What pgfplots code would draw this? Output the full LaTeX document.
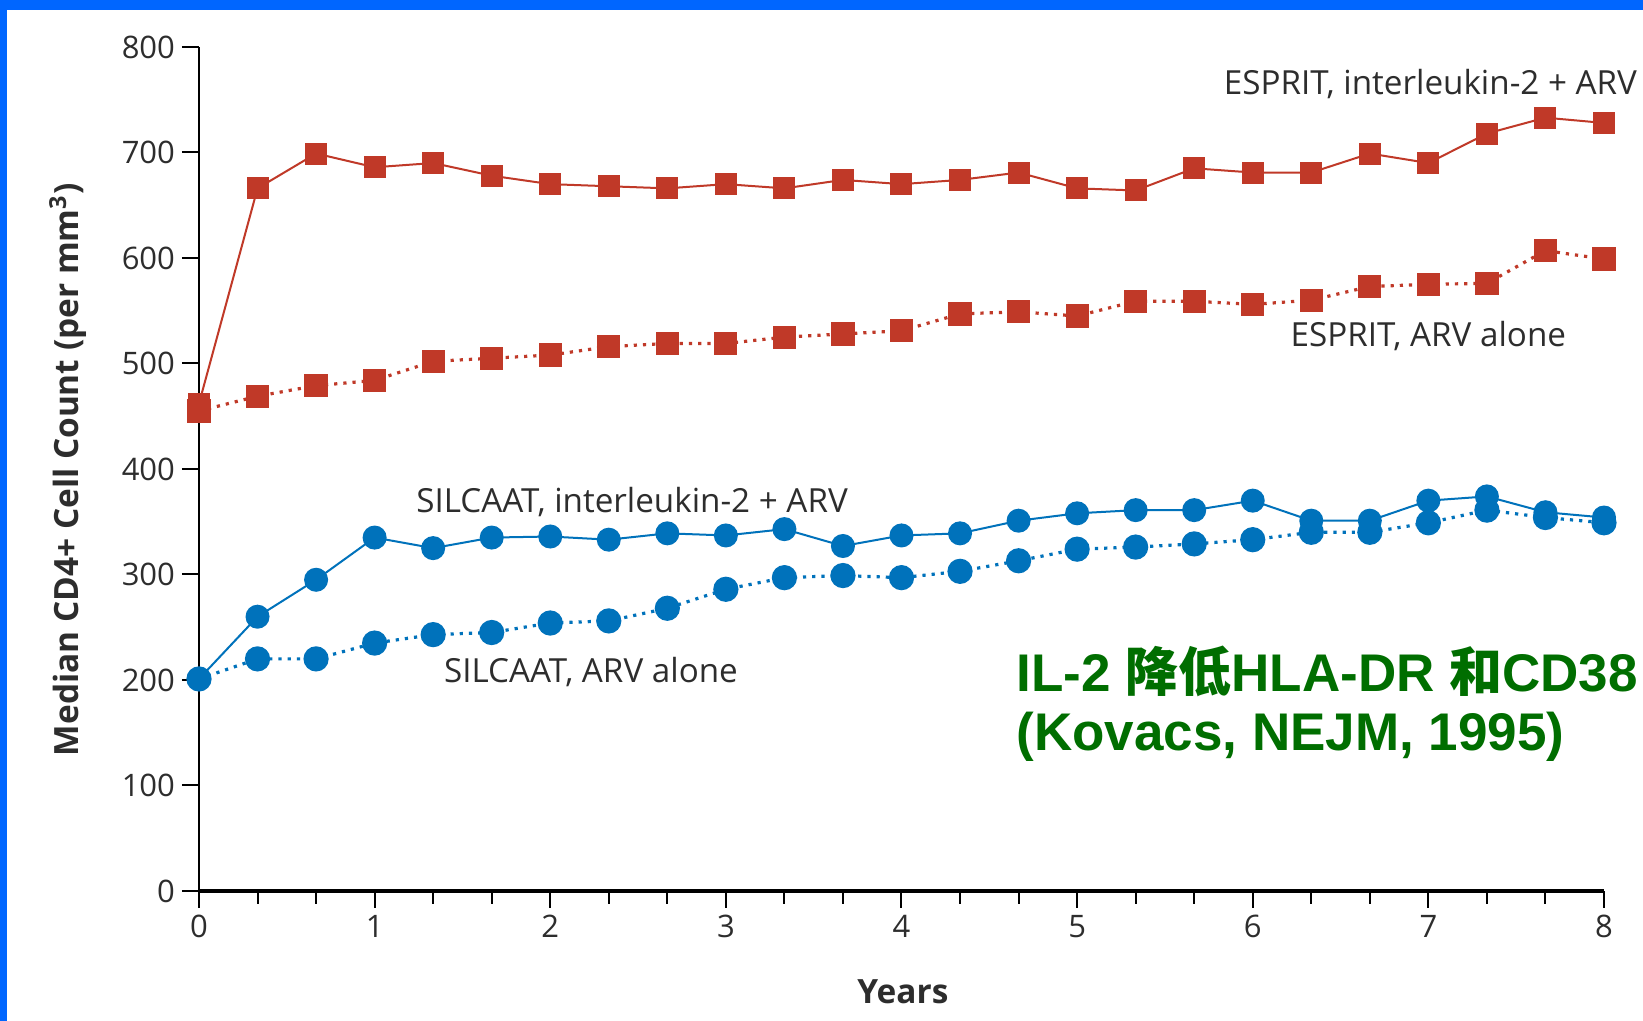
\documentclass[border=0pt]{standalone}
\usepackage{fontspec}
\usepackage{pgfplots}
\pgfplotsset{compat=1.18}
\setmainfont{Open Sans}
\newfontfamily\arialfont{Liberation Sans}
\newfontfamily\cjk{Noto Sans CJK SC}
\definecolor{bordblue}{RGB}{0,102,255}
\definecolor{cred}{RGB}{192,57,40}
\definecolor{cblue}{RGB}{0,114,187}
\definecolor{cgreen}{RGB}{0,110,0}
\definecolor{txt}{RGB}{45,45,45}
\begin{document}
\begin{tikzpicture}
\useasboundingbox (0,0) rectangle (821.5pt,510.5pt);
\fill[white] (0,0) rectangle (821.5pt,510.5pt);
\fill[bordblue] (0,505.5pt) rectangle (821.5pt,510.5pt);
\fill[bordblue] (0,0) rectangle (3.5pt,510.5pt);
\begin{axis}[
  at={(99.5pt,65pt)}, anchor=south west,
  scale only axis, width=702.5pt, height=422pt,
  xmin=0, xmax=8, ymin=0, ymax=800,
  axis x line*=bottom, axis y line*=left,
  x axis line style={line width=1.6pt},
  y axis line style={line width=1pt},
  xtick={0,...,8}, minor x tick num=2,
  ytick={0,100,...,800},
  tick align=outside,
  major tick length=8.5pt, minor tick length=6.5pt,
  tick style={line width=1pt, black},
  ticklabel style={font=\fontsize{15.5}{18}\selectfont, text=txt},
  /pgf/number format/assume math mode=true,
  xlabel={\bfseries Years},
  ylabel={\bfseries Median CD4+ Cell Count (per mm\textsuperscript{3})},
  label style={font=\fontsize{16.7}{20}\selectfont, text=txt},
  xlabel style={at={(axis description cs:0.501,-0.1197)}, anchor=center},
  ylabel style={at={(axis description cs:-0.0932,0.499)}, anchor=center},
  clip=false,
]
% ESPRIT IL-2 + ARV
\addplot[cred, line width=1pt, mark=square*, mark size=5pt, mark options={solid, fill=cred, draw=cred}] coordinates {
(0,462) (0.3333,666) (0.6667,699) (1,686) (1.3333,690) (1.6667,678) (2,670) (2.3333,668) (2.6667,666) (3,670) (3.3333,666) (3.6667,674) (4,670) (4.3333,674) (4.6667,681) (5,666) (5.3333,664) (5.6667,685) (6,681) (6.3333,681) (6.6667,699) (7,690) (7.3333,718) (7.6667,733) (8,728)
};
% ESPRIT ARV alone
\addplot[cred, line width=1.6pt, dash pattern=on 1.6pt off 3pt, mark=square*, mark size=5pt, mark options={solid, fill=cred, draw=cred}] coordinates {
(0,455) (0.3333,469) (0.6667,479) (1,484) (1.3333,502) (1.6667,505) (2,508) (2.3333,516) (2.6667,519) (3,519) (3.3333,525) (3.6667,528) (4,531) (4.3333,547) (4.6667,549) (5,545) (5.3333,559) (5.6667,559) (6,556) (6.3333,560) (6.6667,573) (7,575) (7.3333,576) (7.6667,607) (8,599)
};
% SILCAAT IL-2 + ARV
\addplot[cblue, line width=1pt, mark=*, mark size=5.5pt, mark options={solid, fill=cblue, draw=cblue}] coordinates {
(0,201) (0.3333,260) (0.6667,295) (1,335) (1.3333,325) (1.6667,335) (2,336) (2.3333,333) (2.6667,339) (3,337) (3.3333,343) (3.6667,327) (4,337) (4.3333,339) (4.6667,351) (5,358) (5.3333,361) (5.6667,361) (6,370) (6.3333,351) (6.6667,351) (7,370) (7.3333,374) (7.6667,359) (8,354)
};
% SILCAAT ARV alone
\addplot[cblue, line width=1.6pt, dash pattern=on 1.6pt off 3pt, mark=*, mark size=5.5pt, mark options={solid, fill=cblue, draw=cblue}] coordinates {
(0,201) (0.3333,220) (0.6667,220) (1,235) (1.3333,243) (1.6667,245) (2,254) (2.3333,256) (2.6667,268) (3,286) (3.3333,297) (3.6667,299) (4,297) (4.3333,303) (4.6667,313) (5,324) (5.3333,326) (5.6667,329) (6,333) (6.3333,340) (6.6667,340) (7,349) (7.3333,361) (7.6667,354) (8,349)
};
\node[anchor=east, text=txt, font=\fontsize{16.6}{18}\selectfont, inner sep=0pt] at (axis cs:8.19,765) {ESPRIT, interleukin-2 + ARV};
\node[anchor=center, text=txt, font=\fontsize{16.6}{18}\selectfont, inner sep=0pt] at (axis cs:7.0,526) {ESPRIT, ARV alone};
\node[anchor=center, text=txt, font=\fontsize{16.6}{18}\selectfont, inner sep=0pt] at (axis cs:2.466,369) {SILCAAT, interleukin-2 + ARV};
\node[anchor=center, text=txt, font=\fontsize{16.6}{18}\selectfont, inner sep=0pt] at (axis cs:2.232,207.6) {SILCAAT, ARV alone};
\node[anchor=west, text=cgreen, font=\fontsize{26.5}{30}\selectfont\bfseries, inner sep=0pt] at (axis cs:4.653,208.5) {\arialfont IL-2 {\cjk 降低}HLA-DR {\cjk 和}CD38};
\node[anchor=west, text=cgreen, font=\fontsize{26.5}{30}\selectfont\bfseries, inner sep=0pt] at (axis cs:4.653,146) {\arialfont (Kovacs, NEJM, 1995)};
\end{axis}
\end{tikzpicture}
\end{document}
